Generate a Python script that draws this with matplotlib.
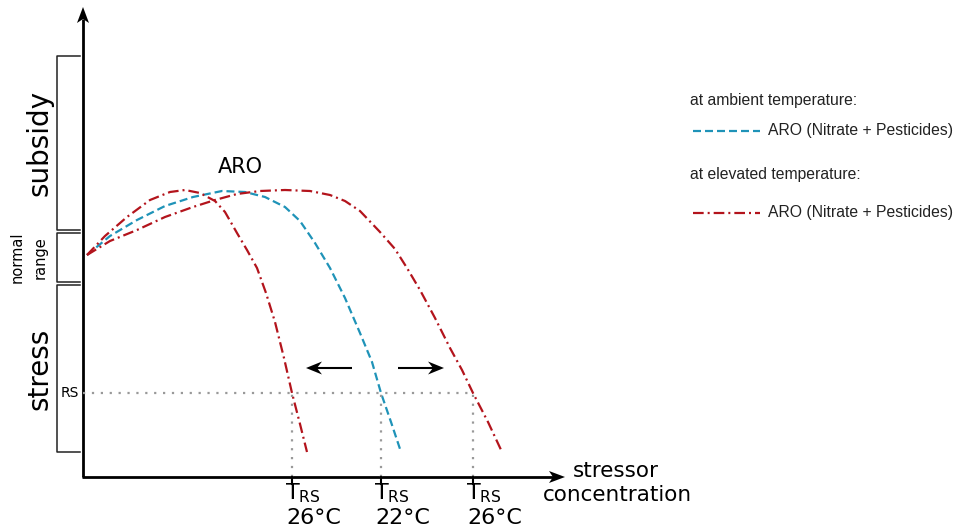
import numpy as np
import matplotlib.pyplot as plt
from matplotlib.patches import Polygon

# stressor concentration / response (arbitrary units, origin at axis crossing)
blue_x = [4, 27, 54, 82, 110, 139, 162, 182, 202, 217, 232, 247, 262, 277, 289, 298, 308, 318]
blue_y = [222, 241, 257, 271, 280, 286, 285, 280, 270, 256, 234, 209, 179, 144, 115, 84, 55, 25]

red_left_x = [4, 22, 44, 67, 87, 102, 117, 132, 142, 154, 164, 174, 183, 192, 201, 209, 217, 224]
red_left_y = [222, 241, 260, 277, 285, 287, 284, 276, 265, 244, 227, 209, 184, 155, 119, 84, 53, 25]

red_right_x = [4, 27, 54, 82, 110, 132, 154, 177, 202, 227, 247, 262, 277, 297, 312, 324, 337, 352,
               367, 379, 390, 405, 419]
red_right_y = [222, 236, 247, 260, 270, 277, 283, 286, 287, 286, 282, 276, 266, 245, 228, 209, 187, 159,
               129, 107, 84, 55, 25]

rs_level = 84
t_rs_x = [209, 298, 390]
t_rs_labels = ["26°C", "22°C", "26°C"]

# response zones: (name, top, bottom)
zones = [("subsidy", 421, 247), ("normal\nrange", 244, 195), ("stress", 192, 25)]

blue = "#1f93b8"
red = "#b3141c"

fig = plt.figure(figsize=(9.58, 5.28), dpi=100)
ax = fig.add_axes([0, 0, 1, 1])
ax.set_xlim(-83, 875)
ax.set_ylim(-51, 477)
ax.axis("off")


def stealth(ax, start, end, lw=2, length=16, width=12, notch=4):
    """箭头: 直线 + 凹形实心箭头 (1 数据单位 = 1 像素)"""
    start = np.asarray(start, float)
    end = np.asarray(end, float)
    d = (end - start) / np.hypot(*(end - start))
    n = np.array([-d[1], d[0]])
    back = end - d * length
    notch_pt = back + d * notch
    ax.plot([start[0], notch_pt[0]], [start[1], notch_pt[1]], color="black", lw=lw,
            solid_capstyle="butt")
    head = [end, back + n * width / 2, notch_pt, back - n * width / 2]
    ax.add_patch(Polygon(head, closed=True, color="black", lw=0))


# axes
stealth(ax, (0, 0), (0, 470))
stealth(ax, (-1, 0), (482, 0))

# shift arrows
stealth(ax, (269, 109), (223, 109), lw=1.5, length=16, width=13, notch=5)
stealth(ax, (315, 109), (361, 109), lw=1.5, length=16, width=13, notch=5)

# curves
ax.plot(blue_x, blue_y, color=blue, lw=1.6, dashes=(3.6, 1.8))
ax.plot(red_left_x, red_left_y, color=red, lw=1.6, dashes=(4.8, 1.8, 0.9, 1.8))
ax.plot(red_right_x, red_right_y, color=red, lw=1.6, dashes=(4.8, 1.8, 0.9, 1.8))

# RS threshold
ax.plot([0, max(t_rs_x)], [rs_level, rs_level], color="#999999", lw=1.6, ls=(0, (1, 3)))
for x, lab in zip(t_rs_x, t_rs_labels):
    ax.plot([x, x], [0, rs_level], color="#999999", lw=1.6, ls=(0, (1, 3)))
    ax.plot([x, x], [-7, 0], color="black", lw=1.5)
    ax.text(x - 7, -16, "T$_{\\mathregular{RS}}$", ha="left", va="center", fontsize=16)
    ax.text(x - 6, -41, lab, ha="left", va="center", fontsize=16)
ax.text(-4, rs_level, "RS", ha="right", va="center", fontsize=10)

# zone brackets
bx, tx = -26, -3
for name, top, bot in zones:
    ax.plot([tx, bx, bx, tx], [top, top, bot, bot], color="#222222", lw=1.1)
    mid = (top + bot) / 2
    if "\n" in name:
        ax.text(-66, mid, "normal", rotation=90, ha="center", va="center", fontsize=10.5)
        ax.text(-43, mid, "range", rotation=90, ha="center", va="center", fontsize=10.5)
    else:
        ax.text(-43, mid, name, rotation=90, ha="center", va="center", fontsize=20)

ax.text(157, 310, "ARO", ha="center", va="center", fontsize=15)

ax.text(490, 6, "stressor", ha="left", va="center", fontsize=15.5)
ax.text(460, -18, "concentration", ha="left", va="center", fontsize=15.5)

# legend
lf = ["Liberation Sans", "DejaVu Sans"]
ax.text(607, 377, "at ambient temperature:", ha="left", va="center", fontsize=11.3,
        family=lf, color="#222222")
ax.plot([610, 677], [346, 346], color=blue, lw=1.6, dashes=(3.6, 1.8))
ax.text(685, 346, "ARO (Nitrate + Pesticides)", ha="left", va="center", fontsize=11.3,
        family=lf, color="#222222")
ax.text(607, 303, "at elevated temperature:", ha="left", va="center", fontsize=11.3,
        family=lf, color="#222222")
ax.plot([610, 677], [264, 264], color=red, lw=1.6, dashes=(4.8, 1.8, 0.9, 1.8))
ax.text(685, 264, "ARO (Nitrate + Pesticides)", ha="left", va="center", fontsize=11.3,
        family=lf, color="#222222")

fig.savefig("out.png", dpi=100)
